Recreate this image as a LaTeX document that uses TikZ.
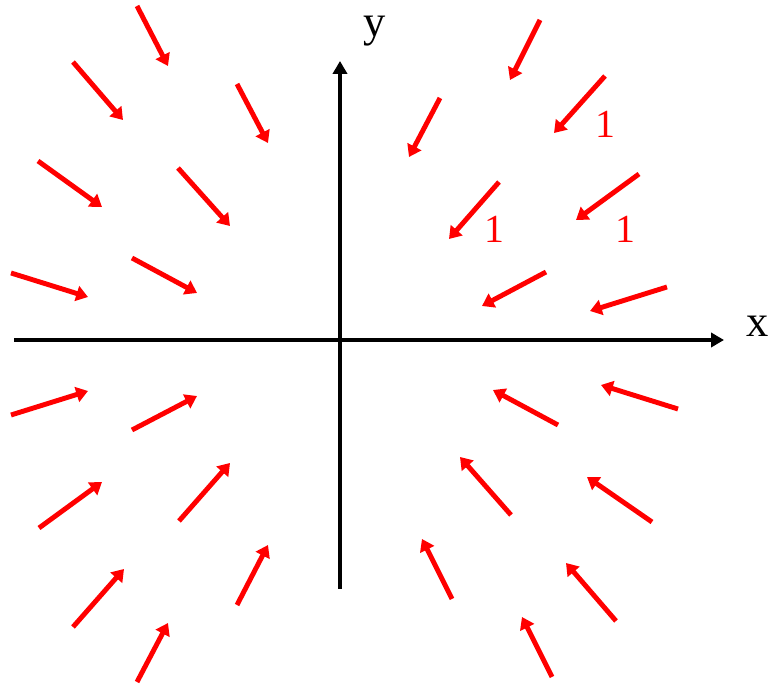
\documentclass[tikz,border=0pt]{standalone}
\usepackage{fontspec}
\setmainfont{Liberation Serif}
\usetikzlibrary{arrows.meta}
\begin{document}
\begin{tikzpicture}[x=0.03cm,y=-0.03cm,
  axis/.style={line width=3pt,-{Triangle[length=11pt,width=12pt]}},
  field/.style={red,line width=4.2pt,-{Triangle[length=10pt,width=13pt]}},
  lbl/.style={font=\fontsize{38}{40}\selectfont,inner sep=0pt},
  one/.style={red,font=\fontsize{34}{36}\selectfont,inner sep=0pt}]
\useasboundingbox (0,0) rectangle (770,685);
% axes
\coordinate (xs) at (14,340);
\coordinate (xe) at (724,340);
\coordinate (ys) at (340,589);
\coordinate (ye) at (340,61);
\draw[axis] (xs) -- (xe);
\draw[axis] (ys) -- (ye);
\node[lbl] (ylab) at (375,31) {y};
\node[lbl] (xlab) at (758,326) {x};
% field arrows: tail x, tail y, head x, head y
\foreach \tx/\ty/\hx/\hy [count=\i] in {
  137/6/168/66, 73/62/123/120, 237/84/268/143, 38/161/102/207,
  178/168/230/226, 11/273/88/297, 132/258/197/293,
  540/20/510/80, 440/98/409/157, 605/76/554/133, 499/182/449/239,
  639/174/576/220, 546/272/482/306, 667/287/590/311,
  11/415/88/391, 132/430/197/396, 39/528/102/482, 179/521/230/463,
  73/627/124/569, 237/605/268/545, 137/682/168/623,
  558/425/493/390, 678/409/601/385, 511/515/460/457, 652/522/587/477,
  452/599/422/539, 616/621/566/563, 552/677/522/617}{
  \coordinate (t\i) at (\tx,\ty);
  \coordinate (h\i) at (\hx,\hy);
  \draw[field] (t\i) -- (h\i);
}
\node[one] (l1) at (605,124) {1};
\node[one] (l2) at (494,229) {1};
\node[one] (l3) at (625,229) {1};
\end{tikzpicture}
\end{document}
